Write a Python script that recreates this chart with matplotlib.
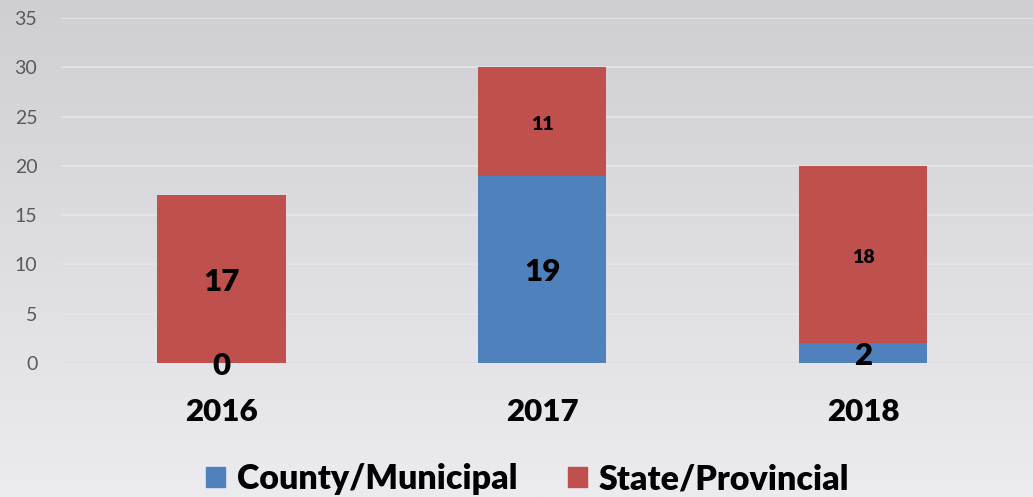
import numpy as np
import matplotlib
matplotlib.use("Agg")
import matplotlib.pyplot as plt
from matplotlib.patches import Patch

plt.rcParams['font.family'] = ['Lato', 'DejaVu Sans']

years = ["2016", "2017", "2018"]
county = [0, 19, 2]
state = [17, 11, 18]
county_labels = ["0", "19", "2"]
state_labels = ["17", "11", "18"]
state_label_big = [True, False, False]

blue = "#4f81bd"
red = "#c0504d"

fig = plt.figure(figsize=(10.33, 4.97), dpi=100)

# gradient background
bg = fig.add_axes([0, 0, 1, 1], zorder=0)
grad = np.linspace(0, 1, 256).reshape(-1, 1)
top = np.array([207, 207, 211]) / 255
bot = np.array([236, 236, 240]) / 255
img = top + (bot - top) * grad[:, :, None]
bg.imshow(img, aspect="auto", extent=[0, 1, 0, 1])
bg.axis("off")

ax = fig.add_axes([0.059, 0.2696, 0.941, 0.6942], zorder=1)
ax.patch.set_alpha(0)

x = np.arange(len(years))
w = 0.4
ax.bar(x, county, w, color=blue, zorder=2)
ax.bar(x, state, w, bottom=county, color=red, zorder=2)

big = 22.5
for i in range(len(years)):
    ax.text(x[i], county[i] / 2 - 0.3, county_labels[i], ha="center", va="center",
            fontsize=big, fontweight="heavy", color="black", zorder=3)
    size = big if state_label_big[i] else 14
    ax.text(x[i], county[i] + state[i] / 2 - 0.3, state_labels[i], ha="center", va="center",
            fontsize=size, fontweight="heavy", color="black", zorder=3)

ax.set_xlim(-0.5, 2.53)
ax.set_ylim(0, 35)
ax.set_yticks(range(0, 36, 5))
ax.yaxis.grid(True, color="#e6e6e9", linewidth=1.2, zorder=0)
ax.set_axisbelow(True)
ax.axhline(0, color="#dcdcdf", linewidth=1.2, zorder=1)
for s in ax.spines.values():
    s.set_visible(False)
ax.tick_params(axis="y", length=0, pad=17, labelsize=14, labelcolor="#595959")
ax.set_xticks(x)
ax.set_xticklabels(years, fontsize=big, fontweight="heavy")
ax.tick_params(axis="x", length=0, pad=25)

handles = [Patch(color=blue, label="County/Municipal"),
           Patch(color=red, label="State/Provincial")]
fig.legend(handles=handles, loc="center", bbox_to_anchor=(0.511, 0.036), ncol=2,
           frameon=False, prop={"size": 24.5, "weight": "heavy"},
           handlelength=0.55, handleheight=0.55, handletextpad=0.35, columnspacing=1.5)

fig.savefig("out.png", dpi=100)
